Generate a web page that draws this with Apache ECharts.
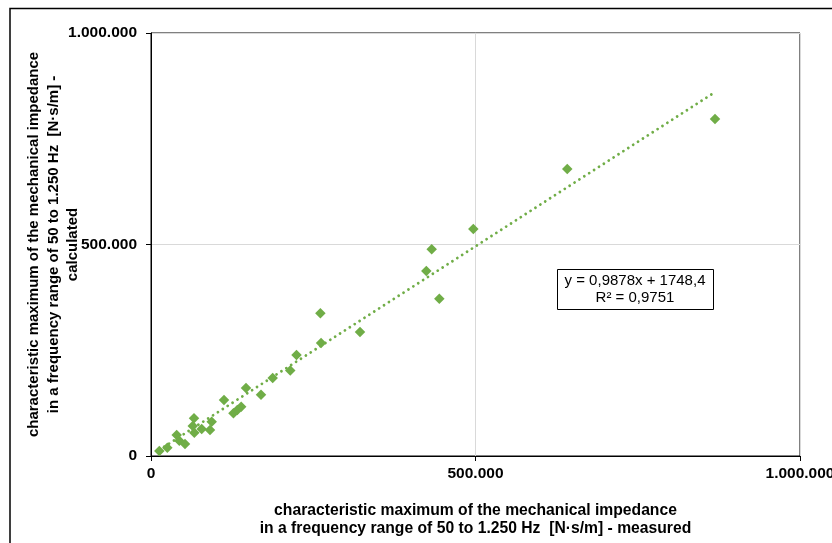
<!DOCTYPE html>
<html>
<head>
<meta charset="utf-8">
<script src="https://cdn.jsdelivr.net/npm/echarts@6/dist/echarts.min.js"></script>
<style>
html,body{margin:0;padding:0;background:#fff;}
#chart{width:832px;height:543px;}
</style>
</head>
<body>
<div id="chart"></div>
<script>
// measured values (N·s/m)
const measured = [12800, 25100, 39600, 43600, 52400, 66300, 64300, 66700, 78100, 90900, 93500,
  112500, 127000, 133000, 139000, 146400, 169500, 187500, 214600, 224200,
  261000, 262000, 322000, 424200, 432500, 444200, 496600, 641400, 869000];
// calculated values (N·s/m)
const calculated = [11800, 19600, 49600, 36200, 28400, 89100, 70900, 55100, 63800, 61500, 81100,
  132400, 101000, 108500, 116500, 160800, 144900, 184400, 202100, 238800,
  337600, 267100, 293100, 437400, 488700, 371900, 536600, 678500, 796700];
// linear trend shown in chart
const slope = 0.9878;
const intercept = 1748.4;
const xTicks = [0, 500000, 1000000];
const eqText = 'y = 0,9878x + 1748,4\nR² = 0,9751';

const fmt = v => String(Math.round(v)).replace(/\B(?=(\d{3})+(?!\d))/g, '.');

const pts = measured.map((x, i) => [x, calculated[i]]);
const xmin = Math.min(...measured), xmax = Math.max(...measured);
const trend = [[xmin, slope * xmin + intercept], [xmax, slope * xmax + intercept]];

const chart = echarts.init(document.getElementById('chart'));
const font = '"Liberation Sans", Arial, sans-serif';
chart.setOption({
  animation: false,
  backgroundColor: '#fff',
  grid: { left: 151, right: 32, top: 33, bottom: 87, show: true, borderColor: '#000', borderWidth: 1,
    backgroundColor: 'transparent', containLabel: false, outerBoundsMode: 'none' },
  xAxis: {
    type: 'value', min: 0, max: 1000000, interval: 500000,
    axisLine: { show: true, lineStyle: { color: '#000', width: 1 } },
    axisTick: { show: true, length: 5, lineStyle: { color: '#000' } },
    splitLine: { show: true, lineStyle: { color: '#d9d9d9', width: 1 } },
    axisLabel: { margin: 10, color: '#000', fontWeight: 'bold', fontSize: 15.5, fontFamily: font, formatter: fmt },
    name: 'characteristic maximum of the mechanical impedance\nin a frequency range of 50 to 1.250 Hz  [N·s/m] - measured',
    nameLocation: 'middle', nameGap: 45, nameMoveOverlap: false,
    nameTextStyle: { color: '#000', fontWeight: 'bold', fontSize: 15.7, fontFamily: font, lineHeight: 18.5, align: 'center' }
  },
  yAxis: {
    type: 'value', min: 0, max: 1000000, interval: 500000,
    axisLine: { show: true, lineStyle: { color: '#000', width: 1 } },
    axisTick: { show: true, length: 5, lineStyle: { color: '#000' } },
    splitLine: { show: true, lineStyle: { color: '#d9d9d9', width: 1 } },
    axisLabel: { margin: 14, color: '#000', fontWeight: 'bold', fontSize: 15.5, fontFamily: font, formatter: fmt },
    name: 'characteristic maximum of the mechanical impedance\nin a frequency range of 50 to 1.250 Hz  [N·s/m] -\ncalculated',
    nameLocation: 'middle', nameGap: 68, nameRotate: 90, nameMoveOverlap: false,
    nameTextStyle: { color: '#000', fontWeight: 'bold', fontSize: 15, fontFamily: font, lineHeight: 19.5, align: 'center' }
  },
  series: [
    {
      type: 'line', data: trend, showSymbol: false, symbol: 'none', z: 2,
      lineStyle: { color: '#70AD47', width: 2.8, type: [0.01, 5.8], cap: 'round' },
      silent: true
    },
    {
      type: 'scatter', data: pts, symbol: 'diamond', symbolSize: 10.5, z: 3,
      itemStyle: { color: '#70AD47', opacity: 1 }
    }
  ],
  graphic: [
    { type: 'rect', shape: { x: 10, y: 8.5, width: 840, height: 560 }, style: { fill: 'none', stroke: '#000', lineWidth: 1.5 }, silent: true },
    { type: 'rect', shape: { x: 557.5, y: 269.5, width: 156, height: 40 }, style: { fill: '#fff', stroke: '#000', lineWidth: 1 }, z: 10 },
    { type: 'text', z: 11,
      style: { x: 635, y: 272, text: eqText, fill: '#000', fontSize: 15, fontFamily: font, lineHeight: 17.5, align: 'center', verticalAlign: 'top' } }
  ]
});
</script>
</body>
</html>
